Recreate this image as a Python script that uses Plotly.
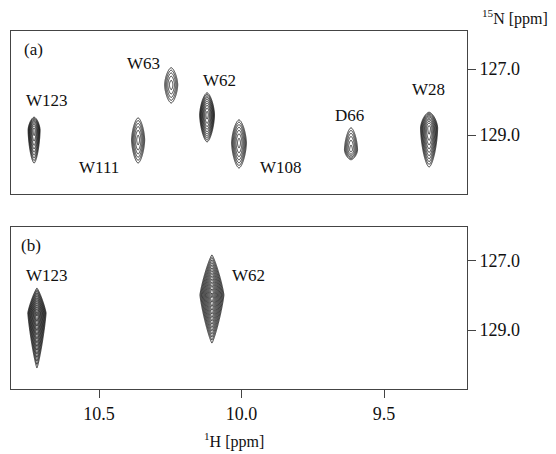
import numpy as np
import plotly.graph_objects as go

# ---------------- data ----------------
# panel (a)
a_names = ["W123", "W111", "W63", "W62", "W108", "D66", "W28"]
a_h_ppm = [10.728, 10.363, 10.247, 10.121, 10.009, 9.616, 9.342]   # 1H shift
a_n_ppm = [128.85, 129.15, 127.48, 128.39, 129.24, 129.45, 128.79]  # 15N shift
a_intensity = [9.3, 4.2, 3.3, 12.1, 5.5, 4.2, 12.1]                 # relative height
a_lw_h = [0.021, 0.023, 0.023, 0.026, 0.026, 0.023, 0.030]          # 1H half-width at base contour
a_lw_n_up = [0.39, 0.67, 0.52, 0.67, 0.70, 0.67, 0.48]              # 15N extent (low-field side)
a_lw_n_down = [1.00, 0.70, 0.55, 0.82, 0.76, 0.30, 1.18]            # 15N extent (high-field side)

# panel (b)
b_names = ["W123", "W62"]
b_h_ppm = [10.718, 10.104]
b_n_ppm = [128.51, 127.99]
b_intensity = [34.6, 34.6]
b_lw_h = [0.032, 0.042]
b_lw_n_up = [0.72, 1.16]
b_lw_n_down = [1.59, 1.39]

x_ticks = [10.5, 10.0, 9.5]
x_tick_labels = ["10.5", "10.0", "9.5"]
y_ticks = [127.0, 129.0]
y_tick_labels = ["127.0", "129.0"]

LEVEL_RATIO = 1.3   # geometric contour spacing
FONT = "Liberation Serif, Times New Roman, serif"
WIN_W, WIN_H = 556, 454
OFF = 8                      # default page body margin
W, H = WIN_W - OFF, WIN_H - OFF


def fx(px):
    return (px - OFF) / W


def fy(py):
    return 1 - (py - OFF) / H


def peak_surface(h0, n0, inten, hw, up, down, p):
    xs = np.linspace(h0 - 1.25 * hw, h0 + 1.25 * hw, 60)
    ys = np.linspace(n0 - 1.15 * up, n0 + 1.15 * down, 180)
    X, Y = np.meshgrid(xs, ys)
    u = np.abs(X - h0) / hw
    dy = Y - n0
    v = np.where(dy < 0, -dy / up, dy / down)
    s = u ** p + v ** p
    # log_{ratio} of intensity profile I**(1-s): base contour at s = 1
    z = np.log(inten) / np.log(LEVEL_RATIO) * (1.0 - s)
    z = np.maximum(z, -1.0)
    return xs, ys, z


fig = go.Figure()

def add_peaks(names, hs, ns, ints, hws, ups, downs, xa, ya, p):
    for nm, h0, n0, it, hw, up, dn in zip(names, hs, ns, ints, hws, ups, downs):
        xs, ys, z = peak_surface(h0, n0, it, hw, up, dn, p)
        fig.add_trace(go.Contour(
            x=xs, y=ys, z=z, xaxis=xa, yaxis=ya, name=nm,
            contours=dict(start=0.001, end=20.001, size=1, coloring="lines"),
            colorscale=[[0, "#000"], [1, "#000"]], showscale=False,
            line=dict(width=0.8), hoverinfo="skip",
        ))

add_peaks(a_names, a_h_ppm, a_n_ppm, a_intensity, a_lw_h, a_lw_n_up, a_lw_n_down, "x", "y", 1.6)
add_peaks(b_names, b_h_ppm, b_n_ppm, b_intensity, b_lw_h, b_lw_n_up, b_lw_n_down, "x2", "y2", 1.2)

x_dom = [fx(11), fx(467)]
x_rng = [10.809, 9.209]
axis_common = dict(showline=True, mirror=True, linecolor="#444", linewidth=1,
                   showgrid=False, zeroline=False)
tickfont = dict(family=FONT, size=18, color="#111")

fig.update_layout(
    width=W, height=H, margin=dict(l=0, r=0, t=0, b=0),
    paper_bgcolor="white", plot_bgcolor="white", showlegend=False,
    font=dict(family=FONT, size=17, color="#111"),
    xaxis=dict(domain=x_dom, range=x_rng, anchor="y", showticklabels=False, ticks="",
               **axis_common),
    xaxis2=dict(domain=x_dom, range=x_rng, anchor="y2", matches="x",
                tickvals=x_ticks, ticktext=x_tick_labels, ticks="outside", ticklen=8,
                tickcolor="#444", tickfont=tickfont, **axis_common),
    yaxis=dict(domain=[fy(194), fy(31)], range=[130.788, 125.848], anchor="x",
               side="right", tickvals=y_ticks, ticktext=y_tick_labels, ticks="outside",
               ticklen=8, tickcolor="#444", tickfont=tickfont, **axis_common),
    yaxis2=dict(domain=[fy(389), fy(227)], range=[130.703, 126.027], anchor="x2",
                side="right", tickvals=y_ticks, ticktext=y_tick_labels, ticks="outside",
                ticklen=8, tickcolor="#444", tickfont=tickfont, **axis_common),
)

# label placement (pixel centres in the browser window)
a_label_pos = [(47, 100), (99, 168), (143, 63), (219, 80), (281, 168), (349, 115), (428, 90)]
b_label_pos = [(47, 275), (248, 275)]

def px_note(text, px, py, size=17):
    fig.add_annotation(text=text, x=fx(px), y=fy(py), xref="paper", yref="paper",
                       showarrow=False, xanchor="center", yanchor="middle",
                       font=dict(family=FONT, size=size, color="#111"))

for nm, (px, py) in zip(a_names, a_label_pos):
    px_note(nm, px, py)
for nm, (px, py) in zip(b_names, b_label_pos):
    px_note(nm, px, py)

px_note("(a)", 33, 49)
px_note("(b)", 31, 245)
px_note("<sup>15</sup>N [ppm]", 515, 18, 16)
px_note("<sup>1</sup>H [ppm]", 234, 440, 16)

fig.write_html("out.html")
